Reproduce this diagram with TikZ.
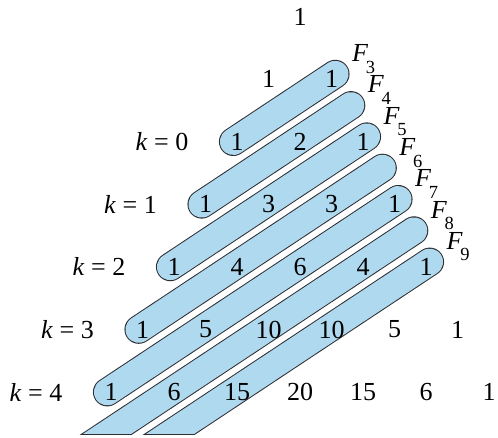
\documentclass[tikz,border=0pt]{standalone}
\usepackage{fontspec}
\setmainfont{Liberation Serif}
\definecolor{bandfill}{RGB}{174,217,238}
\definecolor{bandline}{RGB}{45,45,50}
\tikzset{
  num/.style={inner sep=0pt, font=\fontsize{26}{30}\selectfont},
  klab/.style={inner sep=0pt, font=\fontsize{26}{30}\selectfont},
  flab/.style={inner sep=0pt, anchor=base west, font=\fontsize{26}{30}\selectfont},
  bandout/.style={line width=28.6pt, line cap=round, draw=bandline},
  bandin/.style={line width=26.6pt, line cap=round, draw=bandfill},
}
\begin{document}
\begin{tikzpicture}[x=1pt,y=-1pt]
\path[use as bounding box] (0,0) rectangle (498,438);
% bands
\foreach \n in {3,...,9}{
  \pgfmathsetmacro\sx{300-(\n-1)/2*63-3.75}
  \pgfmathsetmacro\sy{16.5+62.6*(\n-1)}
  \pgfmathsetmacro\ex{300+(\n-1)/4*63+3.75}
  \pgfmathsetmacro\ey{16.5+62.6*(\n-1)/2-5}
  \coordinate (s\n) at (\sx,\sy);
  \coordinate (e\n) at (\ex,\ey);
  \begin{scope}
    \clip (-20,-20) rectangle (520,434.6);
    \draw[bandout] (s\n) -- (e\n);
    \begin{scope}
      \clip (-20,-20) rectangle (520,433.4);
      \draw[bandin] (s\n) -- (e\n);
    \end{scope}
  \end{scope}
  \pgfmathsetmacro\fx{300+(\n-1)/4*63+20.5}
  \pgfmathsetmacro\fy{16.5+62.6*(\n-1)/2-17.4}
  \node[flab] (F\n) at (\fx,\fy) {\textit{F}\kern-2.5pt\raisebox{-11.5pt}{\fontsize{18.5}{20}\selectfont\n}};
}
% Pascal triangle
\foreach \i/\row in {0/{1},1/{1,1},2/{1,2,1},3/{1,3,3,1},4/{1,4,6,4,1},5/{1,5,10,10,5,1},6/{1,6,15,20,15,6,1}}{
  \foreach \v [count=\jj from 0] in \row {
    \node[num] (p\i-\jj) at ({300+(\jj-\i/2)*63},{16.5+62.6*\i}) {\v};
  }
}
% k labels
\foreach \i in {2,...,6}{
  \pgfmathtruncatemacro\k{\i-2}
  \node[klab] (k\k) at ({300-\i/2*63-75},{16.5+62.6*\i}) {\textit{k} = \k};
}
\end{tikzpicture}
\end{document}
